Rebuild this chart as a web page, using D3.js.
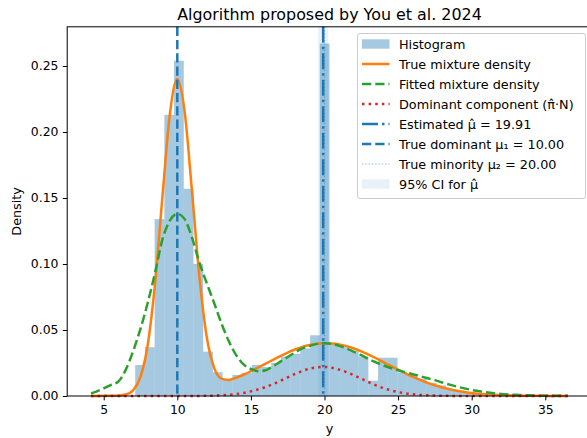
<!DOCTYPE html>
<html><head><meta charset="utf-8">
<script src="https://cdn.jsdelivr.net/npm/d3@7"></script>
<style>body{margin:0;background:#fff;overflow:hidden} svg{display:block;font-family:"DejaVu Sans",sans-serif}</style>
</head><body><svg id="c" width="587" height="438"></svg>
<script>
// ---------------- data ----------------
const binStart = 7.14, binWidth = 0.66;
const histDensity = [0.0235,0.037,0.134,0.213,0.254,0.157,0.100,0.0336,0.018,0.012,
  0.016,0.0177,0.0235,0.022,0.025,0.030,0.032,0.036,0.046,0.267,
  0.040,0.037,0.034,0.030,0.0116,0.029,0.029,0.018,0.016,0.013,
  0.010,0.008,0.005,0.004,0.002,0.0015,0.001,0.0005,0.0005,0.0005];
const gridX = [4.14,4.5,5,5.5,6,6.5,7,7.5,8,8.5,9,9.5,10,10.5,11,11.5,12,12.5,13,13.5,
  14,14.5,15,15.5,16,16.5,17,17.5,18,18.5,19,19.5,20,20.5,21,21.5,22,22.5,23,23.5,
  24,24.5,25,25.5,26,26.5,27,27.5,28,28.5,29,29.5,30,30.5,31,31.5,32,32.5,33,33.5,
  34,34.5,35,35.5,36,36.54];
const trueDensity = [0,0,0.0001,0.0001,0.0003,0.0011,0.0043,0.0144,0.0394,0.0866,
  0.1523,0.2140,0.2401,0.2152,0.1548,0.0905,0.0447,0.0215,0.0132,0.0122,
  0.0138,0.0161,0.0188,0.0216,0.0245,0.0274,0.0303,0.0329,0.0352,0.0371,
  0.0386,0.0396,0.0400,0.0398,0.0391,0.0378,0.0360,0.0338,0.0313,0.0286,
  0.0257,0.0228,0.0199,0.0171,0.0145,0.0122,0.0100,0.0081,0.0065,0.0051,
  0.0040,0.0031,0.0023,0.0017,0.0013,0.0009,0.0007,0.0005,0.0003,0.0002,
  0.0001,0.0001,0.0001,0,0,0];
const fittedDensity = [0.0020,0.0033,0.0058,0.0085,0.011,0.020,0.034,0.051,0.071,0.094,
  0.119,0.133,0.138,0.134,0.120,0.101,0.0855,0.0705,0.055,0.0415,
  0.031,0.024,0.0205,0.0188,0.0195,0.0225,0.026,0.0295,0.033,0.036,
  0.038,0.0395,0.0400,0.0395,0.038,0.036,0.0335,0.031,0.028,0.0255,
  0.0232,0.0212,0.0195,0.0180,0.0165,0.0150,0.0135,0.0120,0.0102,0.0086,
  0.0071,0.0058,0.0046,0.0037,0.0028,0.0021,0.0016,0.0012,0.0009,0.0007,
  0.0005,0.0003,0.0002,0.0002,0.0001,0.0001];
const dominantComponent = [0,0,0,0,0,0,0,0,0,0,0,0,0,0,0,0,
  0.0002,0.0003,0.0006,0.0009,0.0015,0.0023,0.0035,0.0050,0.0068,0.0090,
  0.0115,0.0141,0.0167,0.0189,0.0207,0.0217,0.0220,0.0214,0.0200,0.0181,
  0.0157,0.0131,0.0105,0.0081,0.0060,0.0043,0.0030,0.0020,0.0013,0.0008,
  0.0005,0.0003,0.0002,0.0001,
  0,0,0,0,0,0,0,0,0,0,0,0,0,0,0,0];
const muHat = 19.91, mu1 = 10.00, mu2 = 20.00;
const ciLow = 19.57, ciHigh = 20.25;
const xTicks = [5,10,15,20,25,30,35];
const yTicks = [0,0.05,0.10,0.15,0.20,0.25];
const xDomain = [2.52, 38.16];
const yDomain = [0, 0.2797];
const titleText = "Algorithm proposed by You et al. 2024";
const legendLabels = ["Histogram","True mixture density","Fitted mixture density",
  "Dominant component (π̂·N)","Estimated μ̂ = 19.91","True dominant μ₁ = 10.00",
  "True minority μ₂ = 20.00","95% CI for μ̂"];

// ---------------- layout ----------------
const L = 67.2, R = 591.8, T = 26.8, B = 396;
const blue = "#1f77b4", orange = "#ff7f0e", green = "#2ca02c", red = "#d62728";
const s = 1.25; // px per pt
const svg = d3.select("#c");
const x = d3.scaleLinear().domain(xDomain).range([L, R]);
const y = d3.scaleLinear().domain(yDomain).range([B, T]);

// histogram
const bins = histDensity.map((d, i) => ({x0: binStart + i * binWidth, x1: binStart + (i + 1) * binWidth, v: d}));
svg.append("g").selectAll("rect").data(bins).join("rect")
  .attr("x", d => x(d.x0)).attr("width", d => x(d.x1) - x(d.x0))
  .attr("y", d => y(d.v)).attr("height", d => y(0) - y(d.v))
  .attr("fill", blue).attr("fill-opacity", 0.4);

// CI span
svg.append("rect").attr("x", x(ciLow)).attr("width", x(ciHigh) - x(ciLow))
  .attr("y", T).attr("height", B - T).attr("fill", blue).attr("fill-opacity", 0.1);

// curves
const line = d3.line().x(d => x(d[0])).y(d => y(d[1])).curve(d3.curveMonotoneX);
const lw = 2 * s;
function curve(vals, color, dash) {
  svg.append("path").datum(gridX.map((g, i) => [g, vals[i]]))
    .attr("d", line).attr("fill", "none").attr("stroke", color)
    .attr("stroke-width", lw).attr("stroke-dasharray", dash || null);
}
const dashed = [3.7 * lw, 1.6 * lw].join(",");
const dotted = [1 * lw, 1.65 * lw].join(",");
const dashdot = [6.4 * lw, 1.6 * lw, 1 * lw, 1.6 * lw].join(",");
curve(trueDensity, orange);
curve(fittedDensity, green, dashed);
curve(dominantComponent, red, dotted);

function vline(v, color, width, dash, op) {
  svg.append("line").attr("x1", x(v)).attr("x2", x(v)).attr("y1", T).attr("y2", B)
    .attr("stroke", color).attr("stroke-width", width).attr("stroke-dasharray", dash)
    .attr("stroke-opacity", op || 1);
}
vline(muHat, blue, lw, dashdot);
vline(mu1, blue, lw, dashed);
vline(mu2, blue, 1 * s, [1 * s, 1.65 * s].join(","), 0.45);

// axes
const xAxis = d3.axisBottom(x).tickValues(xTicks).tickFormat(d3.format("d")).tickSize(3.5 * s).tickPadding(3.5 * s);
const yAxis = d3.axisLeft(y).tickValues(yTicks).tickFormat(d3.format(".2f")).tickSize(3.5 * s).tickPadding(3.5 * s);
const gx = svg.append("g").attr("transform", `translate(0,${B})`).call(xAxis);
const gy = svg.append("g").attr("transform", `translate(${L},0)`).call(yAxis);
[gx, gy].forEach(g => {
  g.select(".domain").remove();
  g.selectAll("text").attr("font-family", "DejaVu Sans").attr("font-size", 12.4).attr("fill", "#000");
  g.selectAll("line").attr("stroke", "#000").attr("stroke-width", 1);
});
// spines
svg.append("rect").attr("x", L).attr("y", T).attr("width", R - L).attr("height", B - T)
  .attr("fill", "none").attr("stroke", "#000").attr("stroke-width", 1);

// labels
svg.append("text").attr("x", (L + R) / 2).attr("y", 19.8).attr("text-anchor", "middle")
  .attr("font-size", 15.9).text(titleText);
svg.append("text").attr("x", (L + R) / 2).attr("y", 433).attr("text-anchor", "middle")
  .attr("font-size", 12.8).text("y");
svg.append("text").attr("transform", `translate(21,${(T + B) / 2}) rotate(-90)`)
  .attr("text-anchor", "middle").attr("font-size", 12.8).text("Density");

// legend
const lg = svg.append("g");
lg.append("rect").attr("x", 357.5).attr("y", 33.5).attr("width", 228).attr("height", 165)
  .attr("rx", 2.5).attr("fill", "#fff").attr("fill-opacity", 0.8)
  .attr("stroke", "#cccccc").attr("stroke-width", 1);
const hx0 = 362, hx1 = 389.5, tx = 399, row0 = 44, rowH = 20;
legendLabels.forEach((lab, i) => {
  const cy = row0 + i * rowH;
  if (i === 0 || i === 7) {
    lg.append("rect").attr("x", hx0).attr("y", cy - 4.7).attr("width", hx1 - hx0).attr("height", 9.4)
      .attr("fill", blue).attr("fill-opacity", i === 0 ? 0.4 : 0.1);
  } else {
    const specs = {1: [orange, lw, null, 1], 2: [green, lw, dashed, 1], 3: [red, lw, dotted, 1],
      4: [blue, lw, dashdot, 1], 5: [blue, lw, dashed, 1], 6: [blue, 1 * s, [1 * s, 1.65 * s].join(","), 0.45]}[i];
    lg.append("line").attr("x1", hx0).attr("x2", hx1).attr("y1", cy).attr("y2", cy)
      .attr("stroke", specs[0]).attr("stroke-width", specs[1]).attr("stroke-dasharray", specs[2])
      .attr("stroke-opacity", specs[3]);
  }
  lg.append("text").attr("x", tx).attr("y", cy + 4.6).attr("font-size", 12.8).text(lab);
});
</script></body></html>
